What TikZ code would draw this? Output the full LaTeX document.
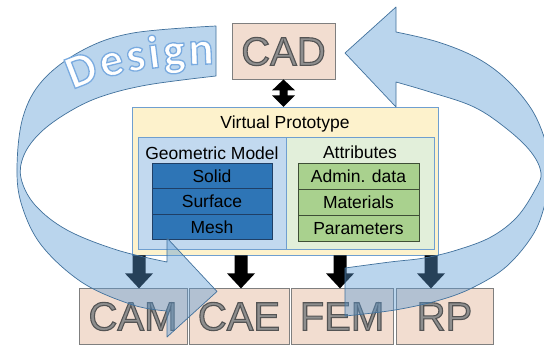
\documentclass[tikz,border=0pt]{standalone}
\usepackage{fontspec}
\setmainfont{Liberation Sans}
\newfontfamily\designfont{Carlito}
\usetikzlibrary{decorations.text,calc}
\definecolor{peach}{HTML}{F2DDD0}
\definecolor{boxgray}{HTML}{7F7F7F}
\definecolor{vpfill}{HTML}{FDF2CC}
\definecolor{vpline}{HTML}{6F9FD0}
\definecolor{geofill}{HTML}{C2D9EF}
\definecolor{attrfill}{HTML}{E2EFDA}
\definecolor{solidfill}{HTML}{2E75B6}
\definecolor{solidline}{HTML}{1F3F66}
\definecolor{greenfill}{HTML}{A9D18E}
\definecolor{greenline}{HTML}{3E4E36}
\definecolor{bandfill}{HTML}{5B9BD5}
\definecolor{bandline}{HTML}{41719C}
\definecolor{txtgray}{HTML}{8E8E8E}
\newcommand{\bev}[1]{{\color{txtgray}\special{pdf:literal direct 2 Tr 1.1 w 0.33 0.33 0.33 RG}#1\special{pdf:literal direct 0 Tr}}}
\newcommand{\glowon}{\special{pdf:literal direct 2 Tr 1.3 w 0.48 0.67 0.88 RG}}
\tikzset{
  bigbox/.style={draw=boxgray, fill=peach, line width=0.8pt, inner sep=0pt, minimum height=56pt,
    font=\fontsize{40}{40}\selectfont, text height=28.6pt, text depth=0pt},
  vpbox/.style={draw=vpline, fill=vpfill, line width=0.8pt, inner sep=0pt},
  geobox/.style={draw=vpline, fill=geofill, line width=0.8pt, inner sep=0pt},
  attrbox/.style={draw=vpline, fill=attrfill, line width=0.8pt, inner sep=0pt},
  rowtxt/.style={inner sep=0pt, font=\fontsize{17.5}{20}\selectfont, text height=12.6pt, text depth=0pt},
  bluerow/.style={rowtxt, draw=solidline, fill=solidfill, line width=0.8pt, minimum width=120pt, minimum height=25.5pt},
  greenrow/.style={rowtxt, draw=greenline, fill=greenfill, line width=0.8pt, minimum width=121pt, minimum height=26pt},
  lbl/.style={inner sep=0pt, font=\fontsize{17.5}{20}\selectfont, anchor=base},
  band/.style={fill=bandfill, fill opacity=0.42, draw=bandline, line width=0.7pt, line join=round},
  designdeco/.style={decorate, decoration={text along path, text align=fit to path, text color=white,
    text={|\designfont\bfseries\fontsize{47}{47}\selectfont\glowon|Design}}},
  downarr/.pic={\fill[black] (-6.5,0) -- (6.5,0) -- (6.5,18) -- (14,18) -- (0,33) -- (-14,18) -- (-6.5,18) -- cycle;},
  duoarr/.pic={\fill[black] (0,0) -- (11.5,11) -- (4,11) -- (4,16) -- (11.5,16) -- (0,27.5) -- (-11.5,16) -- (-4,16) -- (-4,11) -- (-11.5,11) -- cycle;}
}
\begin{document}
\begin{tikzpicture}[x=1pt,y=-1pt]
\useasboundingbox (0,0) rectangle (544,346);
\fill[white] (0,0) rectangle (544,346);

% CAD
\node[bigbox, minimum width=103pt] (cad) at (283.5,51) {\bev{CAD}};

% Virtual prototype
\node[vpbox, minimum width=306pt, minimum height=148pt] (vp) at (285,181) {};
\node[lbl] (vpl) at (285,128) {Virtual Prototype};
\node[geobox, minimum width=148pt, minimum height=112pt] (geo) at (212,193) {};
\node[attrbox, minimum width=148pt, minimum height=112pt] (attr) at (360,193) {};
\node[lbl] (geol) at (212,159) {Geometric Model};
\node[lbl] (attrl) at (360,158.5) {Attributes};

\node[bluerow] (solid) at (212,176) {Solid};
\node[bluerow] (surf) at (212,201.5) {Surface};
\node[bluerow] (mesh) at (212,227) {Mesh};
\node[greenrow] (admin) at (358.5,176) {Admin. data};
\node[greenrow] (mat) at (358.5,202) {Materials};
\node[greenrow] (par) at (358.5,228) {Parameters};

% bottom boxes
\node[bigbox, minimum width=108pt] (cam) at (133,316) {\bev{CAM}};
\node[bigbox, minimum width=100pt] (cae) at (239,316) {\bev{CAE}};
\node[bigbox, minimum width=102pt] (fem) at (342,316) {\bev{FEM}};
\node[bigbox, minimum width=97pt] (rp) at (444.5,316) {\bev{RP}};

% arrows
\pic at (cad.south) {duoarr};
\pic at ($(vp.south -| cam.north)+(6,0)$) {downarr};
\pic at ($(vp.south -| cae.north)+(2,0)$) {downarr};
\pic at ($(vp.south -| fem.north)+(-2,0)$) {downarr};
\pic at ($(vp.south -| rp.north)+(-13.5,0)$) {downarr};

% left (Design) band
\filldraw[band] (216,26) -- plot[smooth, tension=0.6] coordinates {(216,26) (133,33) (83,50) (43,80) (23,117) (17,168) (22,206) (42,246) (83,283) (133,305) (167,311)}
  -- (167,337) -- (217,291.5) -- (167,238) -- (167,262)
  -- plot[smooth, tension=0.6] coordinates {(167,262) (117,250) (67,230) (35,205) (21,178) (24,155) (40,133) (67,113) (100,97) (147,85) (216,76)} -- cycle;

% right band
\filldraw[band] (345,316) -- (345,268)
  -- plot[smooth, tension=0.6] coordinates {(345,268) (390,262) (424,258) (457,250) (491,237) (517,217) (535,190) (541,173) (531,152) (507,129) (474,107) (430,92) (396,82)}
  -- (396,107) -- (345,53) -- (396,7) -- (396,32)
  -- plot[smooth, tension=0.6] coordinates {(396,32) (438,42) (477,58) (507,80) (532,110) (546,143) (551,172) (546,200) (534,233) (507,266) (474,287) (440,300) (395,310) (345,316)} -- cycle;

% Design text
\begin{scope}[y=1pt]
  \path[designdeco] (73,-90) .. controls (103,-75) and (150,-65) .. (214,-64);
\end{scope}
\end{tikzpicture}
\end{document}
